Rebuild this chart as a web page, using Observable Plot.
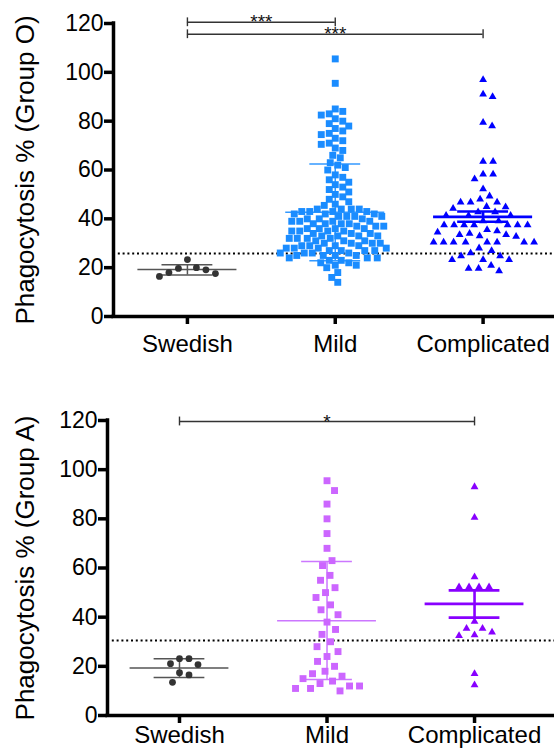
<!DOCTYPE html>
<html>
<head>
<meta charset="utf-8">
<script src="https://cdn.jsdelivr.net/npm/d3@7"></script>
<script src="https://cdn.jsdelivr.net/npm/@observablehq/plot@0.6"></script>
<style>
  html, body { margin: 0; padding: 0; background: #fff; }
  #chart { width: 554px; }
  #chart svg { display: block; }
</style>
</head>
<body>
<div id="chart"></div>
<script>
// ---------- data ----------
const categories = ["Swedish", "Mild", "Complicated"];
const yTicks = [0, 20, 40, 60, 80, 100, 120];

// Group O panel
const swedishO = [19.7, 18.0, 16.4, 23.3, 17.6, 19.1, 20.0];
const mildO = [105.5, 95.5, 85, 84, 83, 82.5, 81, 80, 79, 78, 77, 76, 75, 74.5, 73, 72, 71, 70.5, 69, 68,
  66, 65, 63, 62, 61, 60, 58, 57, 56, 55, 54, 53, 52, 51, 50, 49, 48, 47, 46, 45.5,
  44, 44, 44, 44, 43, 43, 43, 43, 42, 42, 42, 41, 41, 41, 41, 40, 40, 40, 39, 39, 39, 39,
  38, 38, 38, 38, 37, 37, 37, 36, 36, 36, 36, 35, 35, 35, 35, 34, 34, 34, 33, 33, 33, 33,
  32, 32, 32, 32, 31, 31, 31, 30, 30, 30, 30, 29, 29, 29, 29, 28, 28, 28, 28, 27, 27, 27, 27,
  26, 26, 26, 26, 25, 25, 25, 25, 24, 24, 24, 23, 23, 22, 22, 21, 21, 20, 18, 16, 14];
const complicatedO = [97, 91, 90, 79.5, 78, 63.5, 63.5, 58.3, 58.3, 56.3, 52.2, 49.3, 48,
  46.8, 46.8, 46.8, 45, 44.8, 44.2, 42.8, 42.8, 41.4, 41.4, 41.4, 39.1, 39.1,
  37.5, 37.5, 37.5, 37.5, 37.5, 37.5, 37.5, 35.5, 34.5, 33.5, 33, 32.8, 33.5, 34, 35,
  30.4, 30.4, 30.4, 30.4, 30.4, 30.4, 30.4, 30.4, 28, 26.9, 26, 24.8, 24.8,
  23.2, 23.2, 23.2, 20.9, 19.7, 19.7, 18.6];
const meanO = [19.2, 42.7, 40.8];
const lowO = [17.0, 22.8, 38.8];
const highO = [21.2, 62.5, 43.0];
const cutoffO = 25.8;
const sigFromO = [0, 0];
const sigToO = [1, 2];
const sigYO = [120.5, 115.6];
const sigLabelO = ["***", "***"];

// Group A panel
const swedishA = [23.1, 21.1, 20.7, 23.1, 17.4, 16.5, 13.5];
const mildA = [95.5, 91.5, 86, 80, 74, 68, 63, 61, 57, 55, 52, 50, 48, 45, 43, 41, 38, 35, 33, 30,
  28, 26, 24, 22, 20, 18, 17, 16, 15, 14, 13, 12, 12, 11, 11, 10];
const complicatedA = [93, 80.5, 56.3, 52.3, 52.3, 52.3, 52.3, 38.2, 35.4, 35.4, 33.9, 32.7, 32.4, 17, 12.4];
const meanA = [19.3, 38.5, 45.4];
const lowA = [15.5, 14.6, 39.8];
const highA = [23.1, 62.6, 50.9];
const cutoffA = 30.5;
const sigFromA = [0];
const sigToA = [2];
const sigYA = [119.6];
const sigLabelA = ["*"];

// ---------- helpers ----------
const FONT = "'Liberation Sans', Arial, Helvetica, sans-serif";

// beeswarm layout (anisotropic spacing ax × ay in px): horizontal offsets in x-units
function swarm(vals, ax, ay, kx, ky) {
  const idx = d3.range(vals.length).sort((a, b) => vals[b] - vals[a]);
  const placed = [];
  const off = new Array(vals.length);
  for (const i of idx) {
    const py = vals[i] * ky;
    let o = 0;
    for (let k = 0; k < 800; k++) {
      const c = (k % 2 ? 1 : -1) * Math.ceil(k / 2) * 0.5;
      if (placed.every(([px, qy]) => ((c - px) / ax) ** 2 + ((py - qy) / ay) ** 2 >= 1)) { o = c; break; }
    }
    placed.push([o, py]);
    off[i] = o / kx;
  }
  return off;
}

function panel(cfg) {
  const { groups, fills, symbols, radii, spacing, means, lows, highs, lineColors, lineWidths,
          cutoff, sigFrom, sigTo, sigY, sigLabel, title, xDomain,
          width, height, marginTop, marginBottom, marginLeft, tickPadding } = cfg;
  const marginRight = 0;
  const yDomain = [0, 120];
  const kx = (width - marginLeft - marginRight) / (xDomain[1] - xDomain[0]);
  const ky = (height - marginTop - marginBottom) / (yDomain[1] - yDomain[0]);

  const marks = [];
  marks.push(Plot.ruleY([cutoff], {x1: xDomain[0], x2: xDomain[1], stroke: "#000", strokeWidth: 2, strokeDasharray: "2,2.8"}));

  groups.forEach((vals, gi) => {
    const st = {stroke: lineColors[gi], strokeWidth: lineWidths[gi]};
    marks.push(Plot.ruleY([means[gi]], {x1: gi - 0.335, x2: gi + 0.335, ...st}));
    marks.push(Plot.ruleY([lows[gi], highs[gi]], {x1: gi - 0.172, x2: gi + 0.172, ...st}));
    marks.push(Plot.ruleX([gi], {y1: lows[gi], y2: highs[gi], ...st}));
  });

  groups.forEach((vals, gi) => {
    const off = swarm(vals, spacing[gi][0], spacing[gi][1], kx, ky);
    const pts = vals.map((v, i) => ({x: gi + off[i], y: v}));
    marks.push(Plot.dot(pts, {x: "x", y: "y", symbol: symbols[gi], r: radii[gi], fill: fills[gi], stroke: "none"}));
  });

  const sIdx = d3.range(sigY.length);
  marks.push(Plot.ruleY(sIdx, {y: i => sigY[i], x1: i => sigFrom[i], x2: i => sigTo[i], stroke: "#333", strokeWidth: 1.4}));
  marks.push(Plot.ruleX(sIdx, {x: i => sigFrom[i], y1: i => sigY[i] - 1.8, y2: i => sigY[i] + 1.8, stroke: "#333", strokeWidth: 1.4}));
  marks.push(Plot.ruleX(sIdx, {x: i => sigTo[i], y1: i => sigY[i] - 1.8, y2: i => sigY[i] + 1.8, stroke: "#333", strokeWidth: 1.4}));
  marks.push(Plot.text(sIdx, {x: i => (sigFrom[i] + sigTo[i]) / 2, y: i => sigY[i], text: i => sigLabel[i], fontSize: 19, fill: "#111"}));

  marks.push(Plot.ruleX([xDomain[0]], {y1: yDomain[0], y2: yDomain[1], stroke: "#000", strokeWidth: 3.5, strokeLinecap: "square"}));
  marks.push(Plot.ruleY([yDomain[0]], {x1: xDomain[0], x2: xDomain[1], stroke: "#000", strokeWidth: 3.5, strokeLinecap: "square"}));
  marks.push(Plot.axisY({ticks: yTicks, tickSize: 9, tickPadding: 1, strokeWidth: 3.5, fontSize: 23, label: null, fill: "#000"}));
  marks.push(Plot.axisX({ticks: [0, 1, 2], tickFormat: i => categories[i], tickSize: 8, tickPadding, strokeWidth: 3.5, fontSize: 24, label: null, fill: "#000"}));

  marks.push(Plot.text([title], {frameAnchor: "left", rotate: -90, dx: -(marginLeft - 25), fontSize: 26, textAnchor: "middle", fill: "#000"}));

  return Plot.plot({
    width, height, marginTop, marginBottom, marginLeft, marginRight,
    x: {domain: xDomain},
    y: {domain: yDomain},
    style: {fontFamily: FONT, color: "#000", background: "#fff", overflow: "visible"},
    marks
  });
}

const chart = document.getElementById("chart");

chart.append(panel({
  groups: [swedishO, mildO, complicatedO],
  fills: ["#333333", "#1a8cff", "#0000ff"],
  symbols: ["circle", "square", "triangle"],
  radii: [3.4, 3.9, 2.9],
  spacing: [[9.5, 22], [7.8, 7.6], [9.7, 9.5]],
  means: meanO, lows: lowO, highs: highO,
  lineColors: ["#555555", "#3399ff", "#0000ff"],
  lineWidths: [1.5, 1.5, 2.6],
  cutoff: cutoffO,
  sigFrom: sigFromO, sigTo: sigToO, sigY: sigYO, sigLabel: sigLabelO,
  title: "Phagocytosis % (Group O)",
  xDomain: [-0.5, 2.483],
  width: 554, height: 372, marginTop: 23, marginBottom: 56, marginLeft: 113, tickPadding: 10
}));

chart.append(panel({
  groups: [swedishA, mildA, complicatedA],
  fills: ["#333333", "#cc66ff", "#8800ff"],
  symbols: ["circle", "square", "triangle"],
  radii: [3.4, 3.9, 2.9],
  spacing: [[9.5, 14], [10, 14], [9.7, 11]],
  means: meanA, lows: lowA, highs: highA,
  lineColors: ["#555555", "#cc77ff", "#8800ff"],
  lineWidths: [1.5, 1.5, 2.6],
  cutoff: cutoffA,
  sigFrom: sigFromA, sigTo: sigToA, sigY: sigYA, sigLabel: sigLabelA,
  title: "Phagocytosis % (Group A)",
  xDomain: [-0.488, 2.542],
  width: 554, height: 376, marginTop: 48, marginBottom: 33, marginLeft: 107, tickPadding: 2
}));
</script>
</body>
</html>
